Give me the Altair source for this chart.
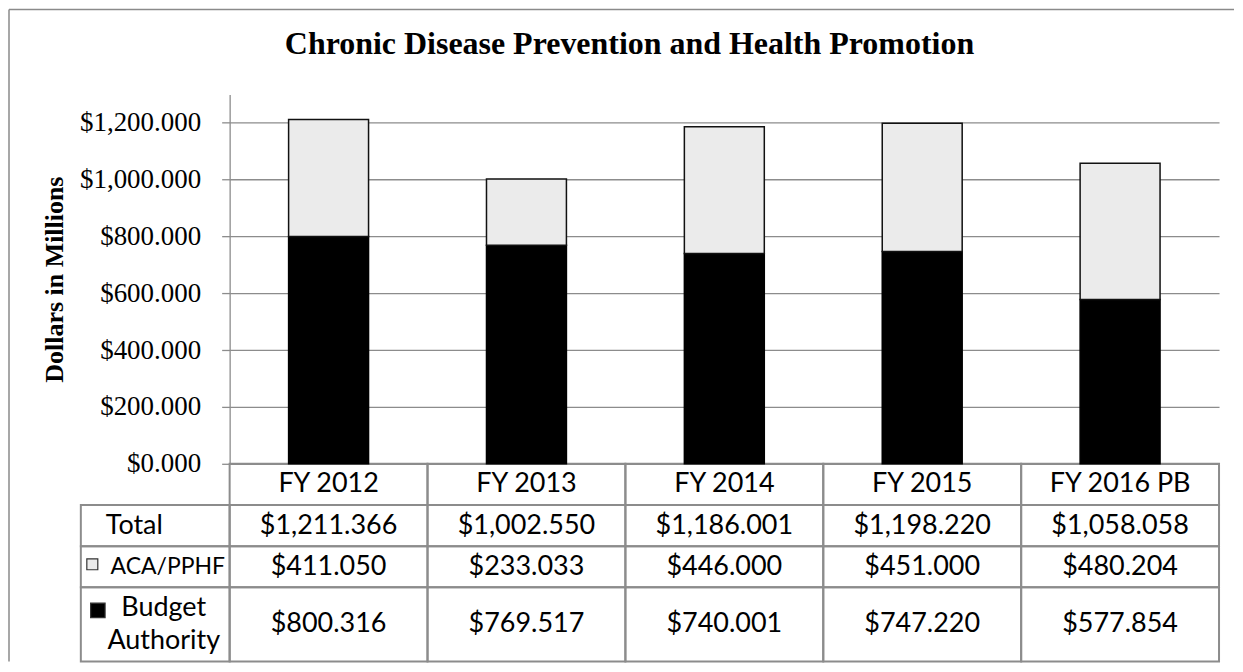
import altair as alt
import pandas as pd

# ---------------- data ----------------
categories = ["FY 2012", "FY 2013", "FY 2014", "FY 2015", "FY 2016 PB"]
aca_pphf = [411.050, 233.033, 446.000, 451.000, 480.204]
budget_authority = [800.316, 769.517, 740.001, 747.220, 577.854]
series_names = ["Budget Authority", "ACA/PPHF"]
row_labels = ["Total", "ACA/PPHF", "Budget\nAuthority"]
y_ticks = [0, 200, 400, 600, 800, 1000, 1200]

# ---------------- layout (pixels / table units) ----------------
PLOT_W = 991
BAR_H = 370
TABLE_H = 198
ROW_EDGES = [0, 1, 2, 3, 4.8]
LABEL_LEFT = -0.752
GRID = "#8c8c8c"
TEXT_FONT = "Lato"
SERIF = "Liberation Serif"
TABLE_FS = 27

totals = [round(a + b, 3) for a, b in zip(aca_pphf, budget_authority)]

# bars
bar_rows = []
for k, (name, vals) in enumerate(zip(series_names, [budget_authority, aca_pphf])):
    for c, v in zip(categories, vals):
        bar_rows.append({"category": c, "series": name, "value": v, "order": k})
bars_df = pd.DataFrame(bar_rows)

# table cells
cell_rows = []
for r in range(4):
    for i in range(len(categories)):
        cell_rows.append({"x0": i, "x1": i + 1, "y0": ROW_EDGES[r], "y1": ROW_EDGES[r + 1]})
    if r > 0:
        cell_rows.append({"x0": LABEL_LEFT, "x1": 0, "y0": ROW_EDGES[r], "y1": ROW_EDGES[r + 1]})
cells_df = pd.DataFrame(cell_rows)

def money(v):
    return "${:,.3f}".format(v)

text_rows = []
row_values = [categories, [money(v) for v in totals], [money(v) for v in aca_pphf],
              [money(v) for v in budget_authority]]
for r, vals in enumerate(row_values):
    for i, t in enumerate(vals):
        text_rows.append({"x": i + 0.5, "y": (ROW_EDGES[r] + ROW_EDGES[r + 1]) / 2, "text": t})
texts_df = pd.DataFrame(text_rows)

total_label_df = pd.DataFrame([{"x": -0.626, "y": 1.5, "text": row_labels[0]}])
aca_label_df = pd.DataFrame([{"x": -0.602, "y": 2.5, "text": row_labels[1]}])
budget_label_df = pd.DataFrame([
    {"x": -0.333, "y": (ROW_EDGES[3] + ROW_EDGES[4]) / 2, "text": row_labels[2]},
])
swatch_df = pd.DataFrame([
    {"x": -0.694, "y": 2.44, "series": "ACA/PPHF", "size": 121},
    {"x": -0.666, "y": 3.56, "series": "Budget Authority", "size": 210},
])

fill_scale = alt.Scale(domain=series_names, range=["#000000", "#ebebeb"])
stroke_scale = alt.Scale(domain=series_names, range=["#000000", "#111111"])

tx = alt.Scale(domain=[0, 5], range=[0, PLOT_W], nice=False, zero=False)
ty = alt.Scale(domain=[0, 4.8], range=[BAR_H, BAR_H + TABLE_H], nice=False, zero=False)

bars = alt.Chart(bars_df).mark_bar(strokeWidth=1.5).encode(
    x=alt.X("category:N", sort=categories, axis=None,
            scale=alt.Scale(paddingInner=0.596, paddingOuter=0.298)),
    y=alt.Y("value:Q", stack="zero",
            scale=alt.Scale(domain=[0, 1300], range=[BAR_H, 0], nice=False),
            axis=alt.Axis(values=y_ticks, format="$,.3f", title="Dollars in Millions",
                          grid=True,
                          titleFont=SERIF, titleFontSize=26, titleFontWeight="bold",
                          titleColor="black", titlePadding=12,
                          labelFont=SERIF, labelFontSize=27, labelColor="black",
                          labelPadding=21, tickSize=8, tickColor=GRID, tickWidth=1.3,
                          domainColor=GRID, domainWidth=1.3,
                          gridColor=GRID, gridWidth=1.3)),
    fill=alt.Fill("series:N", scale=fill_scale, legend=None),
    stroke=alt.Stroke("series:N", scale=stroke_scale, legend=None),
    order=alt.Order("order:Q", sort="ascending"),
)

cells = alt.Chart(cells_df).mark_rect(fill="white", fillOpacity=0, stroke=GRID, strokeWidth=2).encode(
    x=alt.X("x0:Q", scale=tx, axis=None), x2="x1:Q",
    y=alt.Y("y0:Q", scale=ty, axis=None), y2="y1:Q",
)

cell_text = alt.Chart(texts_df).mark_text(font=TEXT_FONT, fontSize=TABLE_FS, color="black",
                                           align="center", baseline="middle").encode(
    x=alt.X("x:Q", scale=tx, axis=None), y=alt.Y("y:Q", scale=ty, axis=None), text="text:N")

total_label = alt.Chart(total_label_df).mark_text(font=TEXT_FONT, fontSize=TABLE_FS, color="black",
                                                   align="left", baseline="middle").encode(
    x=alt.X("x:Q", scale=tx, axis=None), y=alt.Y("y:Q", scale=ty, axis=None), text="text:N")

aca_label = alt.Chart(aca_label_df).mark_text(font=TEXT_FONT, fontSize=23, color="black",
                                               align="left", baseline="middle").encode(
    x=alt.X("x:Q", scale=tx, axis=None), y=alt.Y("y:Q", scale=ty, axis=None), text="text:N")

budget_label = alt.Chart(budget_label_df).mark_text(font=TEXT_FONT, fontSize=TABLE_FS, color="black",
                                                     align="center", baseline="middle",
                                                     lineBreak="\n", lineHeight=33, dy=-16).encode(
    x=alt.X("x:Q", scale=tx, axis=None), y=alt.Y("y:Q", scale=ty, axis=None), text="text:N")

swatches = alt.Chart(swatch_df).mark_point(shape="square", filled=True, strokeWidth=1.2, opacity=1).encode(
    x=alt.X("x:Q", scale=tx, axis=None), y=alt.Y("y:Q", scale=ty, axis=None),
    fill=alt.Fill("series:N", scale=fill_scale, legend=None),
    stroke=alt.value("#333333"),
    size=alt.Size("size:Q", scale=None, legend=None),
)

frame_top = alt.Chart(pd.DataFrame({"v": [0]})).mark_rule(color="#8a8a8a", strokeWidth=1.5).encode(
    x=alt.value(-221), x2=alt.value(1006), y=alt.value(-85))
frame_left = alt.Chart(pd.DataFrame({"v": [0]})).mark_rule(color="#8a8a8a", strokeWidth=1.5).encode(
    x=alt.value(-221), y=alt.value(-85), y2=alt.value(568))

chart = alt.layer(
    cells, cell_text, total_label, aca_label, budget_label, swatches, bars, frame_top, frame_left
).resolve_scale(
    x="independent", y="independent", fill="independent", stroke="independent"
).properties(
    width=PLOT_W, height=BAR_H + TABLE_H,
    background="white",
    padding={"left": 0, "top": 0, "right": 0, "bottom": 0},
    title=alt.TitleParams("Chronic Disease Prevention and Health Promotion",
                          font=SERIF, fontSize=32, fontWeight="bold", color="black",
                          anchor="middle", dx=-95, offset=-77, baseline="alphabetic"),
).configure_view(stroke="transparent", strokeWidth=0)

chart.save("out.html", embed_options={"renderer": "svg", "actions": False})
